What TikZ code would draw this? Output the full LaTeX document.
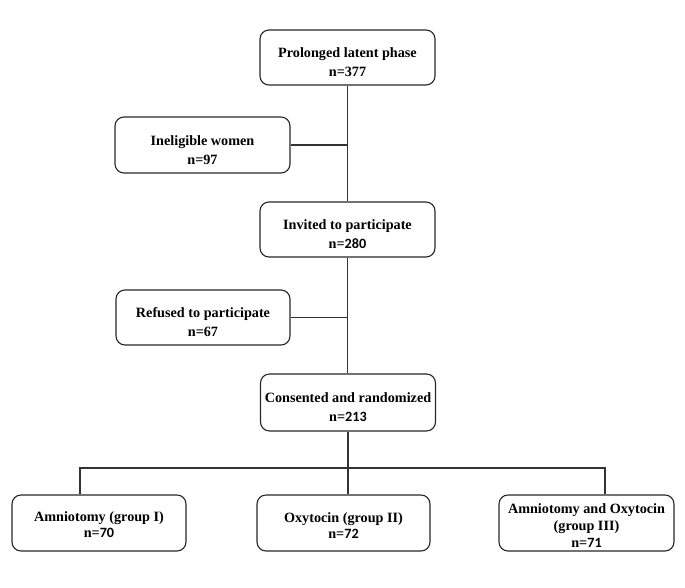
\documentclass[tikz,border=0pt]{standalone}
\usepackage{fontspec}
\setmainfont{Liberation Serif}
\newfontfamily\dgfont{Carlito}
\newcommand{\dg}[1]{{\dgfont\bfseries #1}}
\newcommand{\tsp}{\rule{0pt}{20pt}}
\begin{document}
\begin{tikzpicture}[x=1pt,y=-1pt,
  box/.style={draw=black!85,line width=1.1pt,rounded corners=9pt,align=center,
    font=\bfseries\fontsize{14.2}{19}\selectfont,inner sep=0pt},
  grp/.style={box,font=\bfseries\fontsize{14.2}{16}\selectfont},
  conn/.style={draw=black!80,line width=1.3pt}]
\useasboundingbox (0,0) rectangle (685,587);
\node[box,minimum width=175pt,minimum height=55pt] (b1) at (347.5,57.5) {\tsp Prolonged latent phase\\n=377};
\node[box,minimum width=175pt,minimum height=56pt] (b2) at (202.5,145) {\tsp Ineligible women\\n=97};
\node[box,minimum width=175pt,minimum height=55pt] (b3) at (347.5,229.5) {\tsp Invited to participate\\n=\dg{280}};
\node[box,minimum width=174pt,minimum height=55pt] (b4) at (203,317.5) {\tsp Refused to participate\\n=67};
\node[box,minimum width=175pt,minimum height=57pt] (b5) at (348,402.5) {\tsp Consented and randomized\\n=\dg{213}};
\node[grp,minimum width=174pt,minimum height=56pt] (g1) at (99,523) {\rule{0pt}{14pt}Amniotomy (group I)\\n=\dg{70}};
\node[grp,minimum width=173pt,minimum height=56pt] (g2) at (343.5,523) {\rule{0pt}{14pt}Oxytocin (group II)\\n=\dg{72}};
\node[box,minimum width=175pt,minimum height=56pt,font=\bfseries\fontsize{14.2}{17}\selectfont] (g3) at (586.5,523) {\rule{0pt}{14pt}Amniotomy and Oxytocin\\(group III)\\n=\dg{71}};
\coordinate (hl) at (80,468);
\coordinate (hr) at (605,468);
\draw[conn] (b1.south) -- (b1.south |- b3.north);
\draw[conn] (b3.south) -- (b3.south |- b5.north);
\draw[conn] (b2.east) -- (b2.east -| b1.south);
\draw[conn] (b4.east) -- (b4.east -| b3.south);
\draw[conn] (b5.south) -- (b5.south |- g2.north);
\draw[conn] (hl |- g1.north) -- (hl) -- (hr) -- (hr |- g3.north);
\end{tikzpicture}
\end{document}
